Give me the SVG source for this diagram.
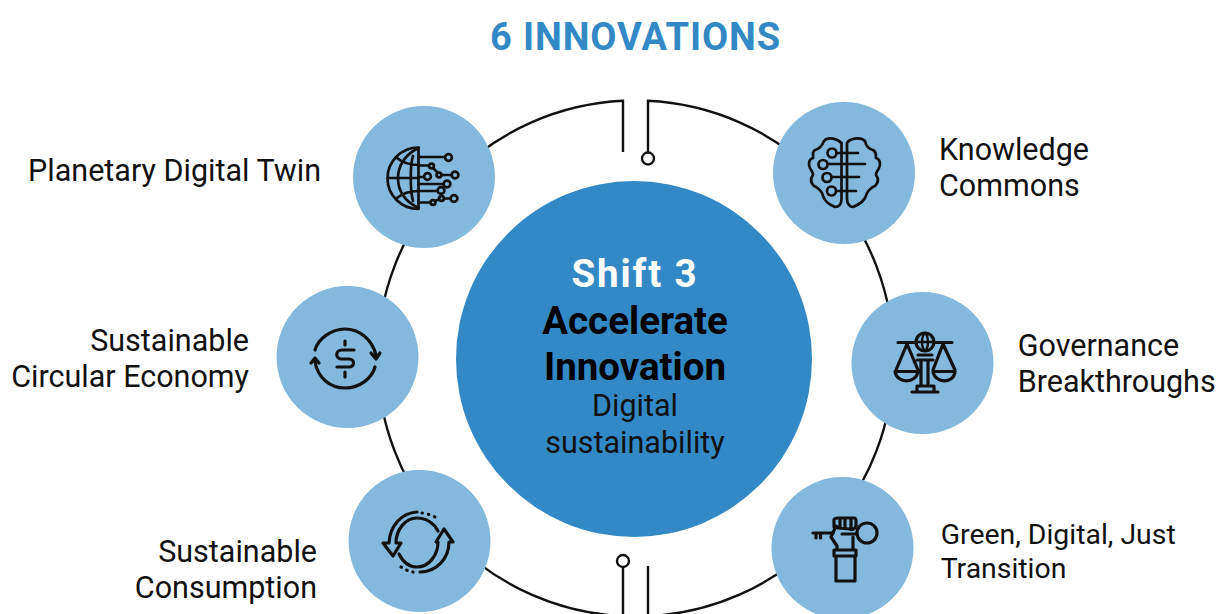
<svg xmlns="http://www.w3.org/2000/svg" width="1217" height="614" viewBox="0 0 1217 614">
<style>
.t{font-family:Roboto,"Liberation Sans",sans-serif;font-size:30.500px;fill:#111}
.g{font-size:28.400px}
.b{font-family:Roboto,"Liberation Sans",sans-serif;font-weight:700;font-size:38.500px;text-anchor:middle}
.c{fill:#84b8dd}
.i{fill:none;stroke:#111;stroke-width:2.700;stroke-linecap:round;stroke-linejoin:round}
.h{stroke-width:3.200}
.f{fill:#84b8dd}
.l{fill:none;stroke:#111;stroke-width:2.400}
</style>
<rect width="1217" height="614" fill="#fff"/>
<text x="635.500" y="49.500" text-anchor="middle" font-family="Roboto,'Liberation Sans',sans-serif" font-weight="700" font-size="38" letter-spacing="0.900" fill="#3289c6">6 INNOVATIONS</text>
<g id="connectors">
<path class="l" d="M623 152V100.800A258 258 0 0 0 623 616.200"/>
<path class="l" d="M648 152V100.800A258 258 0 0 1 648 616.200"/>
<path class="l" d="M623 566V614M648 566V614"/>
<circle class="l" cx="648" cy="158.500" r="6" style="fill:#fff"/>
<circle class="l" cx="623" cy="561" r="6" style="fill:#fff"/>
</g>
<g id="center">
<circle cx="634" cy="359" r="178" fill="#3289c6"/>
<text class="b" x="635" y="287" letter-spacing="1.900" fill="#fff">Shift 3</text>
<text class="b" x="635" y="333.500" fill="#000">Accelerate</text>
<text class="b" x="635" y="379.500" fill="#000">Innovation</text>
<text x="635" y="415.500" text-anchor="middle" class="t">Digital</text>
<text x="635" y="452.500" text-anchor="middle" class="t">sustainability</text>
</g>
<g id="planetary-digital-twin">
<circle class="c" cx="424" cy="177" r="71"/>
<g class="i">
<path d="M418.500 147.500V209M418.500 147.500A31 30.750 0 0 0 418.500 209M388 178H418.500"/>
<path d="M418.500 148C404 155 398 167 398 178C398 190 404 201 418.500 208"/>
<path d="M413 156C410 165 410 190 413 201M397 158C403 163 410 165 418.500 165M397 198C403 193 410 191 418.500 191"/>
<path d="M418.500 157H445M418.500 165.500H429M418.500 177H424M418.500 184H444M418.500 191H438M418.500 202.500H431M433 168L438 173M441.500 175H452M435 201L439 199.500M444 198.500H451"/>
<circle class="f" cx="448.500" cy="157.500" r="3.400"/><circle class="f" cx="431.500" cy="166" r="2.400"/><circle class="f" cx="439" cy="175" r="2.400"/><circle class="f" cx="455" cy="175" r="3.400"/><circle class="f" cx="427.500" cy="176.500" r="3.400"/><circle class="f" cx="447" cy="184" r="3.400"/><circle class="f" cx="441" cy="190.500" r="3.400"/><circle class="f" cx="441.500" cy="198.500" r="2.400"/><circle class="f" cx="433" cy="202.500" r="2.400"/><circle class="f" cx="454" cy="198.500" r="3.400"/>
</g>
<text class="t" x="321" y="180.500" text-anchor="end">Planetary Digital Twin</text>
</g>
<g id="knowledge-commons">
<circle class="c" cx="844" cy="173" r="71"/>
<g class="i">
<path d="M841.500 143C838 139 828 136 824 141C822 146 819 149 815 150C811 153 814 156 813 158C809 159 808 164 810 168C812 172 813 172 813 175C810 179 811 183 814 186C817 187 820 190 822 193C824 201 828 204 835 207C839 207 841.500 204 841.500 199ZM847 143C849 139 860 136 865 141C866 146 869 149 873 150C878 153 875 156 876 158C880 159 881 164 879 168C877 172 876 172 876 175C879 179 878 183 875 186C872 187 869 190 867 193C865 201 860 204 853 207C850 207 847 204 847 199Z"/>
<path d="M837 153H858M828 164H865M832 177H859M836 191H856"/>
<circle class="f" cx="832" cy="153" r="4.500"/><circle class="f" cx="823" cy="164.500" r="4.500"/><circle class="f" cx="827" cy="177.500" r="4.500"/><circle class="f" cx="831.500" cy="191" r="4.500"/>
</g>
<text class="t" x="939" y="159.500">Knowledge</text>
<text class="t" x="939" y="195.500">Commons</text>
</g>
<g id="governance-breakthroughs">
<circle class="c" cx="922.500" cy="363" r="71"/>
<g class="i h">
<path d="M898 342.500H952M907 344L896 370M907 344L918 370M943 344L933 370M943 344L955 370M895 371.500H918C916 384 897 384 895 371.500ZM933 371.500H955C954 384 935 384 933 371.500ZM918 355H932M917 360H933M921 360V385M928 360V385M917 386H934V392M917 386V392M912 392H938"/>
<circle class="f" cx="925" cy="342" r="9"/>
<path stroke-width="2.400" d="M916 342H934M925 333C921 337 921 347 925 351C929 347 929 337 925 333Z"/>
</g>
<text class="t" x="1017.700" y="355.500">Governance</text>
<text class="t" x="1017.700" y="391.500">Breakthroughs</text>
</g>
<g id="green-digital-just-transition">
<circle class="c" cx="842.500" cy="548" r="71"/>
<g class="i h">
<path d="M813 533H833M816 533V538M820.500 533V538M842 534H857"/>
<circle cx="867" cy="533" r="10"/>
<path d="M834 527V520C834 518 836 518 838 518H854C856 518 856 519 856 521V526C855 529 852 530 850 529L838 528L836 526L831 537L837 546V550M853 550V537M840 519V528M845 519V528M851 519V528M834 550H856V556H834ZM836 556H855V581H836Z"/>
</g>
<text class="t g" x="940.700" y="543.500">Green, Digital, Just</text>
<text class="t g" x="940.700" y="577.500">Transition</text>
</g>
<g id="sustainable-circular-economy">
<circle class="c" cx="347.500" cy="357" r="71"/>
<g class="i h">
<path d="M315 350C318 339 331 329 345 329C359 329 372 339 376 355M371 353L376 359L380 353"/>
<path d="M375 367C372 378 360 388 345 388C330 388 318 378 315 362M311 363L315 358L319 363"/>
<path d="M354 350H342C335 350 335 359 342 359H349C355 359 355 367 349 367H337M345 341V345M345 372V377"/>
</g>
<text class="t" x="249" y="350.500" text-anchor="end">Sustainable</text>
<text class="t" x="249" y="386.500" text-anchor="end">Circular Economy</text>
</g>
<g id="sustainable-consumption">
<circle class="c" cx="419.500" cy="541" r="71"/>
<g class="i h">
<path d="M417 512C402 513 390 525 389 543H383L393 556L401 543H396C396 530 405 518 417 518C426 518 434 523 438 531"/>
<path d="M420 572C436 572 449 559 449 542H453L444 529L436 542H438C438 555 429 567 417 567C409 567 403 562 399 554"/>
<path stroke-dasharray="0.500 6" d="M422 513C425 513 431 515 435 517M401 567C405 570 409 571 413 572"/>
</g>
<text class="t" x="317" y="561.500" text-anchor="end">Sustainable</text>
<text class="t" x="317" y="597.500" text-anchor="end">Consumption</text>
</g>
</svg>
